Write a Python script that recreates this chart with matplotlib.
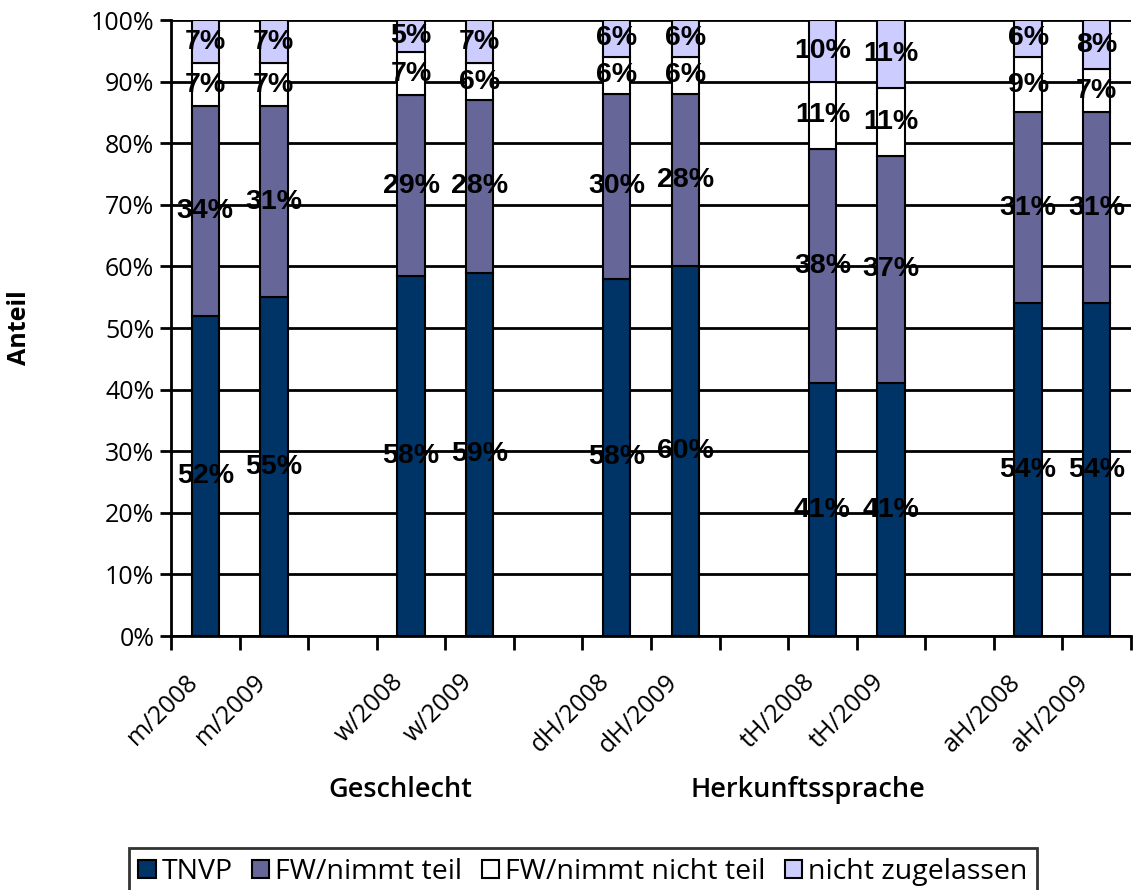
import numpy as np
import matplotlib
matplotlib.use("Agg")
import matplotlib.pyplot as plt
import matplotlib.transforms as mtrans
from matplotlib.patches import Patch

# categories (empty slots separate the groups)
labels = ["m/2008", "m/2009", "", "w/2008", "w/2009", "", "dH/2008", "dH/2009", "",
          "tH/2008", "tH/2009", "", "aH/2008", "aH/2009"]
slots = [0, 1, 3, 4, 6, 7, 9, 10, 12, 13]

series = ["TNVP", "FW/nimmt teil", "FW/nimmt nicht teil", "nicht zugelassen"]
tnvp = [52.0, 55.0, 58.4, 59.0, 58.0, 60.0, 41.0, 41.0, 54.0, 54.0]
fw_teil = [34.0, 31.0, 29.4, 28.0, 30.0, 28.0, 38.0, 37.0, 31.0, 31.0]
fw_nicht = [7.0, 7.0, 7.0, 6.0, 6.0, 6.0, 11.0, 11.0, 9.0, 7.0]
nicht_zug = [7.0, 7.0, 5.2, 7.0, 6.0, 6.0, 10.0, 11.0, 6.0, 8.0]
colors = ["#003366", "#666699", "#ffffff", "#ccccff"]

groups = ["Geschlecht", "Herkunftssprache"]

tick_font = "Open Sans"

fig = plt.figure(figsize=(11.46, 8.9), dpi=100)
ax = fig.add_axes([171/1146, 1-636/890, (1131-171)/1146, (636-20)/890])

data = [tnvp, fw_teil, fw_nicht, nicht_zug]
bottom = np.zeros(len(slots))
x = np.array(slots, dtype=float)
for vals, col in zip(data, colors):
    vals = np.array(vals)
    ax.bar(x, vals, width=0.4, bottom=bottom, color=col, edgecolor="black",
           linewidth=1.5, zorder=3)
    for xi, b, v in zip(x, bottom, vals):
        ax.text(xi, b + v/2, "%d%%" % round(v), ha="center", va="center",
                fontsize=20.5, fontweight="bold", family="Liberation Sans", zorder=4)
    bottom += vals

ax.set_xlim(-0.5, 13.5)
ax.set_ylim(0, 100)
ax.set_yticks(np.arange(0, 101, 10))
ax.set_yticklabels(["%d%%" % v for v in range(0, 101, 10)], family=tick_font, fontsize=18)
ax.yaxis.grid(True, color="black", linewidth=2, zorder=0)
ax.set_axisbelow(True)

ax.set_xticks(np.arange(-0.5, 14, 1))
ax.set_xticklabels([])
ax.set_xticks(np.arange(14), minor=True)
ax.set_xticklabels(labels, minor=True, rotation=45, ha="right", va="top",
                   rotation_mode="anchor", family=tick_font, fontsize=18)
ax.tick_params(axis="x", which="minor", length=0, pad=24)
ax.tick_params(axis="x", which="major", length=10, width=2, direction="out")
ax.tick_params(axis="y", length=8, width=2, direction="out", pad=4)
shift = mtrans.ScaledTranslation(-20/100, 0, fig.dpi_scale_trans)
for lab in ax.get_xticklabels(minor=True):
    lab.set_transform(lab.get_transform() + shift)

for s in ["top", "right"]:
    ax.spines[s].set_visible(False)
ax.spines["left"].set_linewidth(2)
ax.spines["bottom"].set_linewidth(2)

ax.set_ylabel("Anteil", family=tick_font, fontsize=18, fontweight="bold")
ax.yaxis.set_label_coords((32-171)/960, 0.5)

fig.text(400/1146, 1-790/890, groups[0], ha="center", va="center",
         family=tick_font, fontsize=19.5, fontweight="semibold")
fig.text(808/1146, 1-790/890, groups[1], ha="center", va="center",
         family=tick_font, fontsize=19.5, fontweight="semibold")

handles = [Patch(facecolor=c, edgecolor="black", linewidth=1.5) for c in colors]
leg = fig.legend(handles, series, loc="center", bbox_to_anchor=(583/1146, 1-872/890),
                 ncol=4, frameon=True, fancybox=False, prop={"family": tick_font, "size": 20.5},
                 handlelength=0.6, handleheight=0.6, handletextpad=0.2, columnspacing=0.7,
                 borderpad=0.35, borderaxespad=0, edgecolor="black")
leg.get_frame().set_linewidth(2)

fig.savefig("out.png", dpi=100)
